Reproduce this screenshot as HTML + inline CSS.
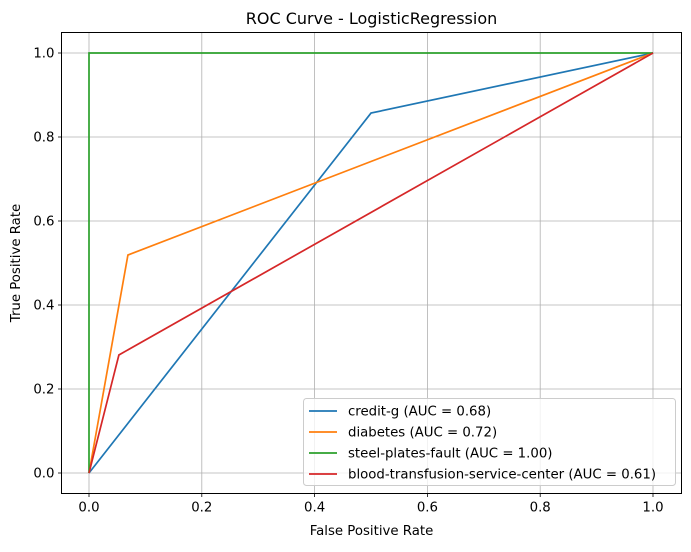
<!DOCTYPE html>
<html><head><meta charset="utf-8"><style>
body{margin:0;background:#fff;}
svg{font-family:"DejaVu Sans","Liberation Sans",sans-serif;}
</style></head><body>
<svg id="c" width="691" height="547" viewBox="0 0 691 547" xmlns="http://www.w3.org/2000/svg"></svg>
<script>
const ticks=[0,0.2,0.4,0.6,0.8,1.0];
const tickLabels=["0.0","0.2","0.4","0.6","0.8","1.0"];
const seriesNames=["credit-g (AUC = 0.68)","diabetes (AUC = 0.72)","steel-plates-fault (AUC = 1.00)","blood-transfusion-service-center (AUC = 0.61)"];
const seriesColors=["#1f77b4","#ff7f0e","#2ca02c","#d62728"];
const fprCredit=[0,0.5,1];const tprCredit=[0,0.857,1];
const fprDiab=[0,0.069,1];const tprDiab=[0,0.519,1];
const fprSteel=[0,0,1];const tprSteel=[0,1,1];
const fprBlood=[0,0.053,1];const tprBlood=[0,0.281,1];
const series=[[fprCredit,tprCredit],[fprDiab,tprDiab],[fprSteel,tprSteel],[fprBlood,tprBlood]];
const L=61.5,R=681.5,T=32.5,B=493.5;
const X=v=>89+v*564, Y=v=>473-v*420;
const s=document.getElementById('c');const NS="http://www.w3.org/2000/svg";
function mk(t,a,p){const e=document.createElementNS(NS,t);for(const k in a)e.setAttribute(k,a[k]);(p||s).appendChild(e);return e;}
ticks.forEach((t,i)=>{
 let g=mk('line',{x1:X(t),x2:X(t),y1:T,y2:B,stroke:'#b0b0b0','stroke-width':0.8});
 
 
 g=mk('line',{x1:L,x2:R,y1:Y(t),y2:Y(t),stroke:'#b0b0b0','stroke-width':0.8});
 
 
 mk('line',{x1:X(t),x2:X(t),y1:B,y2:B+3.5,stroke:'#000','stroke-width':0.8});
 mk('line',{x1:L,x2:L-3.5,y1:Y(t),y2:Y(t),stroke:'#000','stroke-width':0.8});
 let tx=mk('text',{x:X(t),y:B+18,'text-anchor':'middle','font-size':13.3});tx.textContent=tickLabels[i];
 
 
 tx=mk('text',{x:L-7,y:Y(t)+4.5,'text-anchor':'end','font-size':13.3});tx.textContent=tickLabels[i];
 
 
});
series.forEach((d,i)=>{
 const p=mk('polyline',{points:d[0].map((x,j)=>X(x)+','+Y(d[1][j])).join(' '),fill:'none',stroke:seriesColors[i],'stroke-width':1.7});
 
 
});
mk('rect',{x:L,y:T,width:R-L,height:B-T,fill:'none',stroke:'#000','stroke-width':1});
let t=mk('text',{x:(L+R)/2,y:24,'text-anchor':'middle','font-size':16});t.textContent='ROC Curve - LogisticRegression';

t=mk('text',{x:(L+R)/2,y:535,'text-anchor':'middle','font-size':13.3});t.textContent='False Positive Rate';

t=mk('text',{x:20,y:(T+B)/2,'text-anchor':'middle','font-size':13.3,transform:'rotate(-90 20 '+((T+B)/2)+')'});t.textContent='True Positive Rate';

const lg=mk('g',{});
mk('rect',{x:303.5,y:398.5,width:372,height:87,rx:3,fill:'#fff','fill-opacity':0.8,stroke:'#ccc'},lg);
seriesNames.forEach((n,i)=>{
 const y=411+i*21;
 mk('line',{x1:309,x2:337,y1:y,y2:y,stroke:seriesColors[i],'stroke-width':1.7},lg);
 const e=mk('text',{x:348,y:y+4.5,'font-size':13.3},lg);e.textContent=n;
 
 
});
</script>
</body></html>
